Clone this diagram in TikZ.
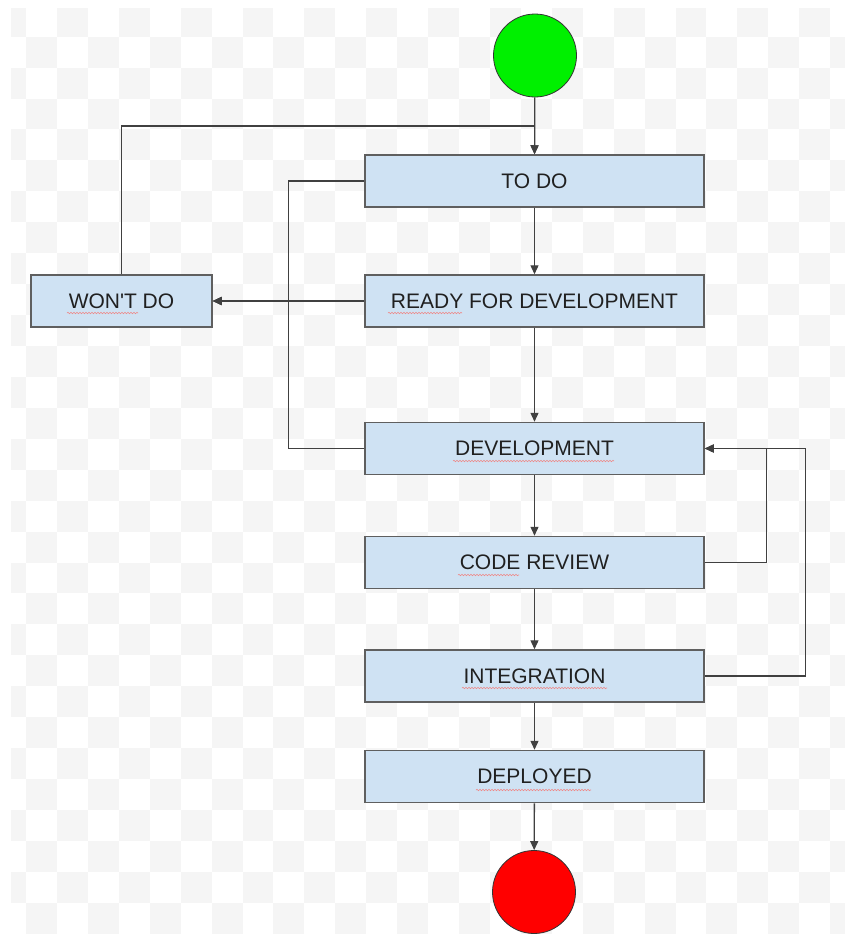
\documentclass[tikz,border=0pt]{standalone}
\usepackage{fontspec}
\setmainfont{Liberation Sans}
\newfontfamily\labelfont{Liberation Sans}
\usetikzlibrary{arrows.meta,decorations.pathmorphing}
\definecolor{boxfill}{HTML}{CFE2F3}
\definecolor{boxline}{HTML}{5F5F5F}
\definecolor{connline}{HTML}{404040}
\definecolor{checker}{HTML}{F5F5F5}
\definecolor{squig}{HTML}{EE8888}
\definecolor{txt}{HTML}{202020}
\tikzset{
  state/.style={draw=boxline, line width=1.5pt, fill=boxfill, minimum width=339pt,
    minimum height=52pt, inner sep=0pt, text=txt, font=\labelfont\fontsize{21}{25}\selectfont},
  wontbox/.style={state, minimum width=181pt},
  conn/.style={draw=connline, line width=1.3pt, -{Triangle[length=9pt,width=8pt]}},
  plainconn/.style={draw=connline, line width=1.3pt},
  terminal/.style={circle, draw=black!80, line width=0.8pt, minimum size=83pt, inner sep=0pt},
  spell/.style={draw=squig, line width=0.6pt, decorate,
    decoration={snake, segment length=3pt, amplitude=0.7pt}}
}
\begin{document}
\begin{tikzpicture}[x=1pt,y=-1pt]
\useasboundingbox (0,0) rectangle (845,935);
% checkerboard background
\begin{scope}
\clip (11,8) rectangle (845,933);
\foreach \c in {-1,...,26}{
  \foreach \r in {-1,...,28}{
    \pgfmathtruncatemacro\myparity{mod(\c+\r+100,2)}
    \ifnum\myparity=0
      \fill[checker] (26+30.93*\c,36.7+30.93*\r) rectangle ++(30.93,30.93);
    \fi
  }
}
\end{scope}

% nodes
\node[terminal, fill={rgb,255:red,0;green,240;blue,0}] (start) at (535,55.5) {};
\node[state] (todo) at (534.5,181) {TO DO};
\node[state] (ready) at (534.5,301) {READY FOR DEVELOPMENT};
\node[wontbox] (wont) at (121.5,301) {WON'T DO};
\node[state] (dev) at (534.5,448.5) {DEVELOPMENT};
\node[state] (cr) at (534.5,562.5) {CODE REVIEW};
\node[state] (int) at (534.5,676) {INTEGRATION};
\node[state] (dep) at (534.5,776.5) {DEPLOYED};
\node[terminal, fill={rgb,255:red,255;green,0;blue,0}] (stop) at (534,892) {};

\coordinate (j1) at (534.5,126);

% connectors
\draw[conn] (start) -- (todo);
\draw[plainconn] (wont.north) |- (j1);
\draw[conn] (j1) -- (todo.north);
\draw[conn] (todo) -- (ready);
\draw[conn] (ready) -- (dev);
\draw[conn] (dev) -- (cr);
\draw[conn] (cr) -- (int);
\draw[conn] (int) -- (dep);
\draw[conn] (dep) -- (stop);
\draw[conn] (todo.west) -- ++(-76,0) |- (wont.east);
\draw[conn] (dev.west) -- ++(-76,0) |- (wont.east);
\draw[conn] (ready) -- (wont);
\draw[conn] (cr.east) -- ++(62,0) |- (dev.east);
\draw[conn] (int.east) -- ++(101,0) |- (dev.east);

% spell-check underlines
\draw[spell] (67,313) -- (138,313);
\draw[spell] (388,313) -- (462,313);
\draw[spell] (453,461) -- (614,461);
\draw[spell] (458,575) -- (519,575);
\draw[spell] (462,688) -- (607,688);
\draw[spell] (476,790) -- (591,790);
\end{tikzpicture}
\end{document}
